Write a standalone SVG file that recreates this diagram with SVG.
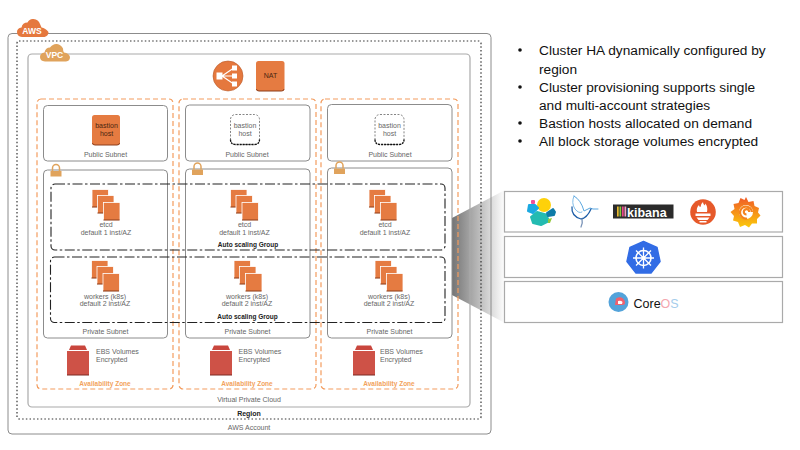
<svg xmlns="http://www.w3.org/2000/svg" width="800" height="450" viewBox="0 0 800 450">
<style>
text{font-family:"Liberation Sans",Arial,sans-serif;font-size:7px;fill:#666;text-anchor:middle}
.b{font-weight:bold;fill:#222;font-size:6.500px}
.az{font-weight:bold;fill:#F2A25C;font-size:6.500px}
.s{text-anchor:start}
.box{fill:none;stroke:#8c8c8c;stroke-width:1}
.zone{fill:none;stroke:#F39C5E;stroke-width:1.200;stroke-dasharray:5 3}
.asg{fill:none;stroke:#222;stroke-width:1.100;stroke-dasharray:10 2.500 2.500 2.500}
.inst{fill:#E57B41;stroke:#fff;stroke-width:.8}
.bul{font-size:13.700px;fill:#111;text-anchor:start}
.panel{fill:#fff;stroke:#aaa;stroke-width:1.200}
</style>
<defs>
<linearGradient id="fade" x1="0" y1="0" x2="1" y2="0">
<stop offset="0" stop-color="#747474"/><stop offset="1" stop-color="#fff"/>
</linearGradient>
<linearGradient id="gf" x1="0" y1="0" x2="0" y2="1"><stop offset="0" stop-color="#F05A28"/><stop offset="1" stop-color="#FBCA0A"/></linearGradient>
<g id="stack">
<rect class="inst" x="0" y="0" width="16.500" height="18"/><path d="M0 17.500h16" stroke="#8c3f1c"/>
<rect class="inst" x="5.500" y="6" width="16.500" height="18"/><path d="M5.500 23.500h16" stroke="#8c3f1c"/>
<rect class="inst" x="11.500" y="13" width="16.500" height="18"/><path d="M11.500 30.500h16" stroke="#8c3f1c"/>
</g>
<g id="ebs">
<path d="M2 6 4 1.500H18L20 6Z" fill="#C9463D"/>
<rect x="0" y="7" width="22" height="24" fill="#CE5247"/>
<path d="M0 31h22" stroke="#7d2a24"/>
</g>
<g id="lock">
<path d="M-3.500 0v-3a3.500 3.500 0 0 1 7 0v3" fill="none" stroke="#E0A35C" stroke-width="1.500"/>
<rect x="-5.500" y="0" width="11" height="5.500" fill="#E0A35C"/>
</g>
<g id="ghost">
<rect x="0" y="0" width="29" height="30" rx="5" fill="#fff" stroke="#666" stroke-width=".8" stroke-dasharray="2 1.500"/>
<path d="M0 25q0 5 5 5h19q5 0 5-5" fill="none" stroke="#111" stroke-width="1.300" stroke-dasharray="2 1"/>
</g>
</defs>

<g id="wedge"><path d="M452 218 505 190V323L452 295Z" fill="url(#fade)"/></g>

<g id="aws-account">
<rect class="box" x="8" y="33.500" width="483" height="400.500" rx="4"/>
<path d="M22 37q-5-.500-5-5 0-4 4.500-4.500 1-5 6-5 2-4 6-3.500 5 .500 6.500 5 1 2 1.500 3.500 4 .500 7 4.500 0 4-4 5Z" fill="#E5783E"/>
<text x="32" y="34" style="font-size:8.500px;font-weight:bold;fill:#fff">AWS</text>
<text x="249" y="430">AWS Account</text>
</g>
<g id="region">
<rect x="17" y="41" width="464" height="378" rx="2" fill="none" stroke="#333" stroke-width="1.200" stroke-dasharray="1.500 2.200"/>
<text class="b" x="249" y="416" style="font-size:7px">Region</text>
</g>
<g id="vpc">
<rect x="28" y="54" width="442" height="353" rx="4" fill="none" stroke="#aaa" stroke-width="1.200"/>
<path d="M45 61.500q-5-.500-5-4.500 0-4 4.500-4.500 1-5 5.500-5 3-4 7-3.500 4 .500 6 4.500 0 3 1 4 5 .500 6 4.500 0 4-4 4.500Z" fill="#E0A35C"/>
<text x="54.500" y="58" style="font-size:8.500px;font-weight:bold;fill:#fff">VPC</text>
<text x="249" y="402">Virtual Private Cloud</text>
</g>

<g id="load-balancer">
<circle cx="228" cy="76" r="15" fill="#E5783E" stroke="#B85A2A" stroke-width=".6"/>
<g fill="#fff" stroke="#fff">
<rect x="216.500" y="72.500" width="6" height="7" stroke="none"/>
<path d="M222 76 233 68.500M222 76H233M222 76 233 83.500" fill="none" stroke-width="1.200"/>
<rect x="232" y="65.500" width="5" height="5" stroke="none"/>
<rect x="232" y="73.500" width="5" height="5" stroke="none"/>
<rect x="232" y="81.500" width="5" height="5" stroke="none"/>
</g>
</g>
<g id="nat">
<rect x="256" y="61" width="28.500" height="30" rx="2.500" fill="#E57B41"/>
<path d="M256.500 89q0 2 2.500 2h22.500q2.500 0 2.500-2" fill="none" stroke="#8c3f1c"/>
<text x="270.500" y="77.500" style="font-size:7px;fill:#4a2510">NAT</text>
</g>

<g id="az-1">
<rect class="zone" x="37" y="99" width="136" height="290" rx="4"/>
<text class="az" x="105" y="386">Availability Zone</text>
<use href="#ebs" x="67" y="344"/>
<text class="s" x="96" y="354">EBS Volumes</text><text class="s" x="96" y="362">Encrypted</text>
</g>
<g id="az-2">
<rect class="zone" x="179" y="99" width="137" height="290" rx="4"/>
<text class="az" x="247" y="386">Availability Zone</text>
<use href="#ebs" x="210" y="344"/>
<text class="s" x="238.500" y="354">EBS Volumes</text><text class="s" x="238.500" y="362">Encrypted</text>
</g>
<g id="az-3">
<rect class="zone" x="321" y="99" width="137" height="290" rx="4"/>
<text class="az" x="389" y="386">Availability Zone</text>
<use href="#ebs" x="353" y="344"/>
<text class="s" x="380" y="354">EBS Volumes</text><text class="s" x="380" y="362">Encrypted</text>
</g>

<g id="public-subnet-1">
<rect class="box" x="43.500" y="105.500" width="124" height="55.500" rx="4"/>
<rect x="92" y="115" width="28" height="30" rx="2.500" fill="#E57B41"/>
<path d="M92.500 143q0 2 2.500 2h22q2.500 0 2.500-2" fill="none" stroke="#8c3f1c"/>
<text x="106.500" y="128" style="fill:#4a2510">bastion</text><text x="106.500" y="136" style="fill:#4a2510">host</text>
<text x="105.500" y="157">Public Subnet</text>
</g>
<g id="public-subnet-2">
<rect class="box" x="185.500" y="105" width="124.500" height="56" rx="4"/>
<use href="#ghost" x="230.500" y="114.500"/>
<text x="245" y="128">bastion</text><text x="245" y="136">host</text>
<text x="247" y="157">Public Subnet</text>
</g>
<g id="public-subnet-3">
<rect class="box" x="327.500" y="104.500" width="124.500" height="56.500" rx="4"/>
<use href="#ghost" x="375" y="114.500"/>
<text x="389.500" y="128">bastion</text><text x="389.500" y="136">host</text>
<text x="390" y="157">Public Subnet</text>
</g>

<g id="private-subnet-1">
<rect class="box" x="43.500" y="170" width="124" height="168" rx="4"/>
<use href="#lock" x="56" y="171"/>
<text x="105.500" y="333.500">Private Subnet</text>
</g>
<g id="private-subnet-2">
<rect class="box" x="185.500" y="169" width="124.500" height="169" rx="4"/>
<use href="#lock" x="197.500" y="169.500"/>
<text x="247.500" y="333.500">Private Subnet</text>
</g>
<g id="private-subnet-3">
<rect class="box" x="327.500" y="168" width="124.500" height="170" rx="4"/>
<use href="#lock" x="339.500" y="168.500"/>
<text x="389.500" y="333.500">Private Subnet</text>
</g>

<g id="asg-etcd">
<rect class="asg" x="51" y="184" width="394" height="66" rx="4"/>
<text class="b" x="248" y="247">Auto scaling Group</text>
</g>
<g id="asg-workers">
<rect class="asg" x="50.500" y="257" width="394.500" height="65.500" rx="4"/>
<text class="b" x="247.500" y="318.500">Auto scaling Group</text>
</g>

<g id="etcd-1"><use href="#stack" x="92" y="189.500"/><text x="106" y="227">etcd</text><text x="106" y="235">default 1 inst/AZ</text></g>
<g id="etcd-2"><use href="#stack" x="230.500" y="189.500"/><text x="244.500" y="227">etcd</text><text x="244.500" y="235">default 1 inst/AZ</text></g>
<g id="etcd-3"><use href="#stack" x="369" y="189.500"/><text x="385" y="227">etcd</text><text x="385" y="235">default 1 inst/AZ</text></g>
<g id="workers-1"><use href="#stack" x="91.500" y="260.500"/><text x="105" y="298.500">workers (k8s)</text><text x="105" y="306">default 2 inst/AZ</text></g>
<g id="workers-2"><use href="#stack" x="234" y="260.500"/><text x="247" y="298.500">workers (k8s)</text><text x="247" y="306">default 2 inst/AZ</text></g>
<g id="workers-3"><use href="#stack" x="375" y="260.500"/><text x="389" y="298.500">workers (k8s)</text><text x="389" y="306">default 2 inst/AZ</text></g>

<g id="bullets">
<g fill="#111"><circle cx="520" cy="50" r="1.800"/><circle cx="520" cy="87" r="1.800"/><circle cx="520" cy="123" r="1.800"/><circle cx="520" cy="141" r="1.800"/></g>
<text class="bul" x="539" y="55">Cluster HA dynamically configured by</text>
<text class="bul" x="539" y="74">region</text>
<text class="bul" x="539" y="92">Cluster provisioning supports single</text>
<text class="bul" x="539" y="110">and multi-account strategies</text>
<text class="bul" x="539" y="128">Bastion hosts allocated on demand</text>
<text class="bul" x="539" y="146">All block storage volumes encrypted</text>
</g>

<g id="panel-monitoring">
<rect class="panel" x="504.500" y="191.500" width="278" height="40.500"/>
<g id="elastic" stroke-linejoin="round" stroke-width="2">
<circle cx="544" cy="205" r="7" fill="#FED10A"/>
<path d="M537 212 546 214.500 549 221 541 225 533 223 531 217Z" fill="#24BBB1" stroke="#24BBB1"/>
<path d="M529 205 535 205 538 208 533 213 528 211Z" fill="#1BA9E1" stroke="#1BA9E1"/>
<rect x="531" y="200" width="4" height="4" rx="1" fill="#EF5098"/>
<path d="M553 209 555 212 554 215 548 216 547 213Z" fill="#0F7CA8" stroke="#0F7CA8"/>
<path d="M548 219 552 218 550 223 548 223Z" fill="#93C83E"/>
</g>
<g id="fluentd" fill="none" stroke-linecap="round">
<path d="M574 196Q571 203 575 209 579 214 582 212" stroke="#7FBCE8" stroke-width="1"/>
<path d="M574 196Q581 200 584 211L590 208 593 209 598 209" stroke="#5AA7E0" stroke-width="1"/>
<path d="M572 207Q571 216 581 219 587 218 591 209" stroke="#1F5FA8" stroke-width="1.300"/>
<path d="M582 219Q583 223 581 227" stroke="#7A94B8" stroke-width="1.300"/>
</g>
<g id="kibana">
<rect x="613" y="204.500" width="60.500" height="14" fill="#2b2b2b"/>
<rect x="617" y="206.500" width="1.700" height="10" fill="#E8B92F"/><rect x="619.500" y="206.500" width="1.700" height="10" fill="#8CC63F"/><rect x="622" y="206.500" width="1.700" height="10" fill="#E8478B"/><rect x="624.500" y="206.500" width="1.700" height="10" fill="#F2A0C0"/>
<text x="627" y="216.500" style="text-anchor:start;font-size:12.500px;font-weight:bold;fill:#fff">kibana</text>
</g>
<g id="prometheus">
<circle cx="703" cy="212" r="12.800" fill="#E6592A"/>
<path d="M697 212q-1-4 2-7 0 2 1.500 2 0-3 2.500-5 0 3 2 3.500 0-1 .500-2 2.500 4 1.500 8.500ZM695.500 213.500h15v2.500h-15ZM696.500 217.500h13l-2 2.500h-9ZM699.500 221h7v1.500h-7Z" fill="#fff"/>
</g>
<g id="grafana">
<path d="M746 197l2.500 5 5-1 1 5 4.500 2-1 4.500 2.500 3-3.500 3.500 0 4.500-5 0-3 4-4-2.500-5 2-2-5-5-1.500 1-4.500-3.500-4 4-3-1-5 5-1 2-5 4 2Z" fill="url(#gf)"/>
<circle cx="746" cy="212" r="7" fill="#fff"/>
<path d="M752 212a6 6 0 1 0-5 6.500M746.500 214.500a2.700 2.700 0 1 1 2.700-2.500" fill="none" stroke="#F4831F" stroke-width="2.200"/>
</g>
</g>
<g id="panel-kubernetes">
<rect class="panel" x="504.500" y="236.500" width="278" height="41"/>
<path d="M643.500 241.500 657 247.500 660 261.500 651 273H636L627 261.500 630 247.500Z" fill="#326CE5" stroke="#326CE5" stroke-width="1.500" stroke-linejoin="round"/>
<g fill="none" stroke="#fff" stroke-width="1.300">
<circle cx="643.500" cy="258" r="7.500" stroke-width="1.600"/>
<path d="M643.500 247.500V268.500M633 258H654M636 250.500 651 265.500M651 250.500 636 265.500"/>
</g>
<circle cx="643.500" cy="258" r="2" fill="#fff"/>
</g>
<g id="panel-coreos">
<rect class="panel" x="504.500" y="281.500" width="278" height="41"/>
<circle cx="618.500" cy="302" r="10" fill="#53A3DA"/>
<path d="M616 298.500q4-2.500 7 0 3 3 1.500 6-3 .500-5 .500h-4.500q.500-4 1-6.500Z" fill="#F1606D"/>
<path d="M618 301q3-1 4.500 1l-.500 2h-4Z" fill="#fff"/>
<text x="633.500" y="307.500" style="text-anchor:start;font-size:12.500px;fill:#111">Core<tspan fill="#F4A6AE">O</tspan><tspan fill="#A5CDEB">S</tspan></text>
</g>
</svg>
